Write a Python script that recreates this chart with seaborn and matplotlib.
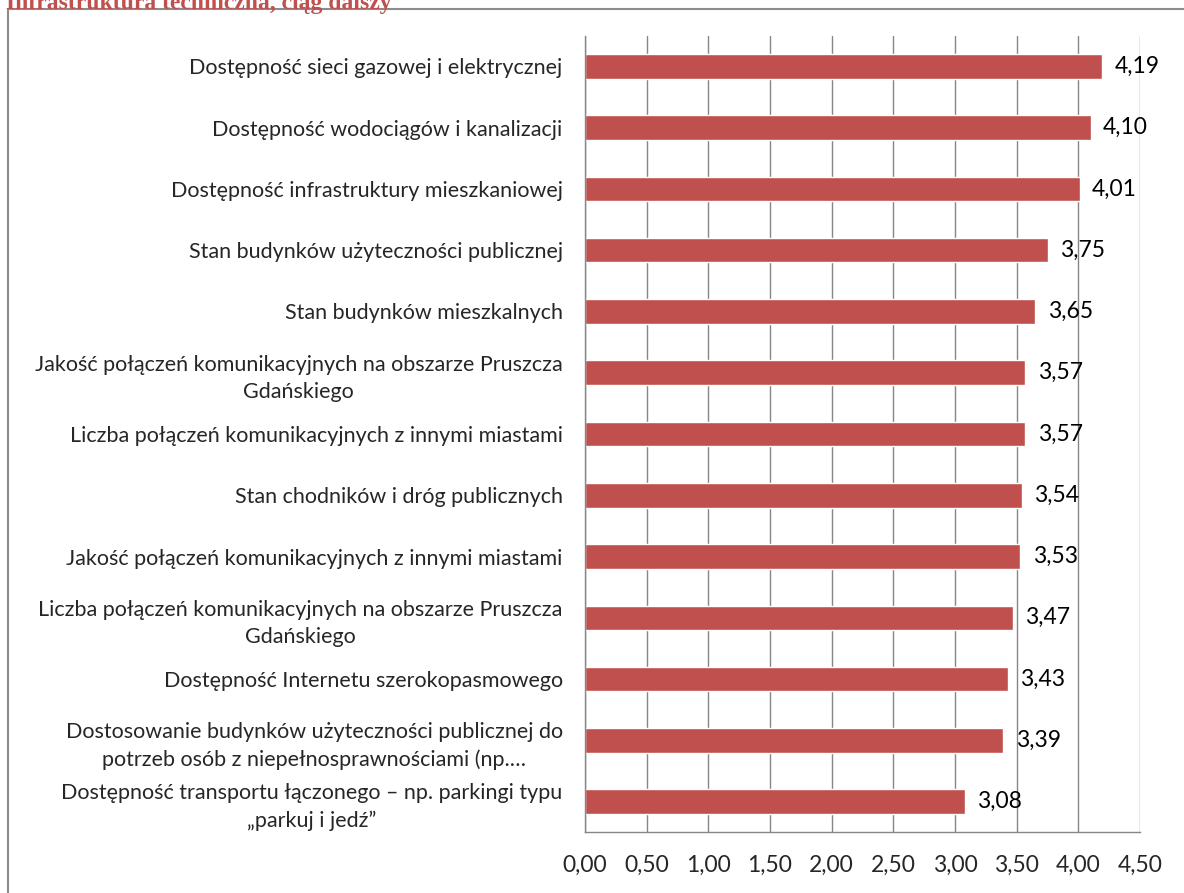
import seaborn as sns
import matplotlib.pyplot as plt
from matplotlib.patches import Rectangle
from matplotlib.ticker import FixedLocator

# data (top to bottom)
labels = [
    "Dostępność sieci gazowej i elektrycznej",
    "Dostępność wodociągów i kanalizacji",
    "Dostępność infrastruktury mieszkaniowej",
    "Stan budynków użyteczności publicznej",
    "Stan budynków mieszkalnych",
    "Jakość połączeń komunikacyjnych na obszarze Pruszcza\nGdańskiego",
    "Liczba połączeń komunikacyjnych z innymi miastami",
    "Stan chodników i dróg publicznych",
    "Jakość połączeń komunikacyjnych z innymi miastami",
    "Liczba połączeń komunikacyjnych na obszarze Pruszcza\nGdańskiego",
    "Dostępność Internetu szerokopasmowego",
    "Dostosowanie budynków użyteczności publicznej do\npotrzeb osób z niepełnosprawnościami (np.…",
    "Dostępność transportu łączonego – np. parkingi typu\n„parkuj i jedź”",
]
values = [4.19, 4.10, 4.01, 3.75, 3.65, 3.57, 3.57, 3.54, 3.53, 3.47, 3.43, 3.39, 3.08]
xticks = [0, 0.5, 1.0, 1.5, 2.0, 2.5, 3.0, 3.5, 4.0, 4.5]

sns.set_style("white")
plt.rcParams['font.family'] = ['Lato', 'DejaVu Sans']

fig = plt.figure(figsize=(11.84, 8.93), dpi=100)
ax = fig.add_axes([0.494, 0.068, 0.469, 0.892])

sns.barplot(x=values, y=labels, color="#C0504D", width=0.4, orient="h", ax=ax,
            saturation=1)

ax.set_xlim(0, 4.5)
ax.set_ylim(len(labels) - 0.5, -0.5)
ax.set_xticks(xticks)
ax.set_xticklabels([f"{t:.2f}".replace(".", ",") for t in xticks], fontsize=16.5)
ax.tick_params(axis="x", length=7, color="#868686", width=1, pad=9)
ax.tick_params(axis="y", which="major", length=0, labelsize=15.5, pad=16)
ax.yaxis.set_minor_locator(FixedLocator([i - 0.5 for i in range(len(labels) + 1)]))
ax.tick_params(axis="y", which="minor", length=7, color="#868686", width=1)
for t in ax.get_yticklabels():
    t.set_multialignment("center")
    t.set_linespacing(1.45)
ax.set_xlabel("")
ax.set_ylabel("")

ax.grid(axis="x", color="#868686", linewidth=1)
ax.set_axisbelow(True)
for s in ["top", "right"]:
    ax.spines[s].set_visible(False)
for s in ["left", "bottom"]:
    ax.spines[s].set_color("#868686")
    ax.spines[s].set_linewidth(1)

for i, v in enumerate(values):
    ax.text(v + 0.1, i, f"{v:.2f}".replace(".", ","), va="center", ha="left",
            fontsize=16.5, color="black")

# outer frame and cut-off caption
fig.patches.append(Rectangle((8 / 1184, -0.05), 1.1, 0.05 + 1 - 9 / 893,
                             transform=fig.transFigure, fill=False,
                             edgecolor="#8c8c8c", linewidth=1.5))
fig.text(0.005, 0.996, "Infrastruktura techniczna, ciąg dalszy", color="#C0504D",
         fontsize=17, fontweight="bold", family="Liberation Serif", va="center")

fig.savefig("out.png", dpi=100)
